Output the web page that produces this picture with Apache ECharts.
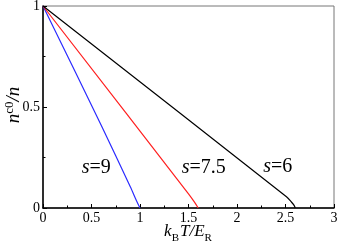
<!DOCTYPE html>
<html>
<head>
<meta charset="utf-8">
<script src="https://cdn.jsdelivr.net/npm/echarts@6/dist/echarts.min.js"></script>
<style>
  html, body { margin: 0; padding: 0; background: #fff; }
  #chart { width: 338px; height: 245px; }
</style>
</head>
<body>
<div id="chart"></div>
<script>
// curves n^c0/n vs k_B T / E_R
const curveS9 = [[0, 1], [0.6, 0.41], [0.9, 0.105], [0.965, 0.035], [1.0, 0]]
const curveS75 = [[0, 1], [1.5, 0.07], [1.56, 0.03], [1.6, 0]]
const curveS6 = [[0, 1], [2.51, 0.056], [2.56, 0.03], [2.59, 0.012], [2.6, 0]]

const curveNames = ['9', '7.5', '6']
const curveColors = ['#2b2bff', '#ff2020', '#000000']
// label anchors (data coords, left edge / vertical middle)
const labelPos = [[0.4, 0.2], [1.43, 0.2], [2.27, 0.205]]

const serif = 'Liberation Serif'

const chart = echarts.init(document.getElementById('chart'))

const curves = [curveS9, curveS75, curveS6]

const axisCommon = {
  type: 'value',
  axisLine: { lineStyle: { color: '#000', width: 1.5 } },
  axisTick: { inside: true, length: 4, lineStyle: { color: '#000' } },
  minorTick: { show: true, splitNumber: 2, length: 2.5, lineStyle: { color: '#000' } },
  axisLabel: { fontFamily: serif, fontSize: 14, color: '#000', margin: 3 },
  splitLine: { show: false }
}

const option = {
  animation: false,
  grid: {
    left: 43,
    right: 4,
    top: 6,
    bottom: 37,
    containLabel: false,
    outerBoundsMode: 'none',
    show: true,
    borderColor: '#777',
    borderWidth: 1
  },
  xAxis: Object.assign({}, axisCommon, { min: 0, max: 3, interval: 0.5 }),
  yAxis: Object.assign({}, axisCommon, { min: 0, max: 1, interval: 0.5 }),
  series: curves.map((data, i) => ({
    type: 'line',
    data: data,
    smooth: 0.3,
    showSymbol: false,
    lineStyle: { color: curveColors[i], width: 1.2 }
  }))
}

chart.setOption(option)

// axis titles, placed from the grid's own pixel mapping
const xMid = chart.convertToPixel({ gridIndex: 0 }, [1.5, 0])
const yMid = chart.convertToPixel({ gridIndex: 0 }, [0, 0.5])

const graphics = [
  {
    type: 'text',
    x: xMid[0],
    y: xMid[1] + 24,
    style: {
      text: '{i|k}{sub|B}{i|T/E}{sub|R}',
      align: 'center',
      verticalAlign: 'middle',
      rich: {
        i: { fontFamily: serif, fontStyle: 'italic', fontSize: 17, fill: '#000', lineHeight: 20 },
        sub: { fontFamily: serif, fontSize: 11, fill: '#000', verticalAlign: 'bottom', lineHeight: 11, padding: [0, 1, -2, 0] }
      }
    }
  },
  {
    type: 'text',
    x: yMid[0] - 29,
    y: yMid[1] - 2,
    rotation: Math.PI / 2,
    style: {
      text: '{i|n}{sup|c0}{i|/n}',
      align: 'center',
      verticalAlign: 'middle',
      rich: {
        i: { fontFamily: serif, fontStyle: 'italic', fontSize: 19, fill: '#000', lineHeight: 22 },
        sup: { fontFamily: serif, fontSize: 13, fill: '#000', verticalAlign: 'top', lineHeight: 12 }
      }
    }
  }
]

// curve labels s=...
labelPos.forEach((p, i) => {
  const px = chart.convertToPixel({ gridIndex: 0 }, p)
  graphics.push({
    type: 'text',
    x: px[0],
    y: px[1],
    style: {
      text: '{s|s}{t|=' + curveNames[i] + '}',
      verticalAlign: 'middle',
      rich: {
        s: { fontFamily: serif, fontStyle: 'italic', fontSize: 20, fill: '#000' },
        t: { fontFamily: serif, fontSize: 20, fill: '#000' }
      }
    }
  })
})
chart.setOption({ graphic: graphics })
</script>
</body>
</html>
